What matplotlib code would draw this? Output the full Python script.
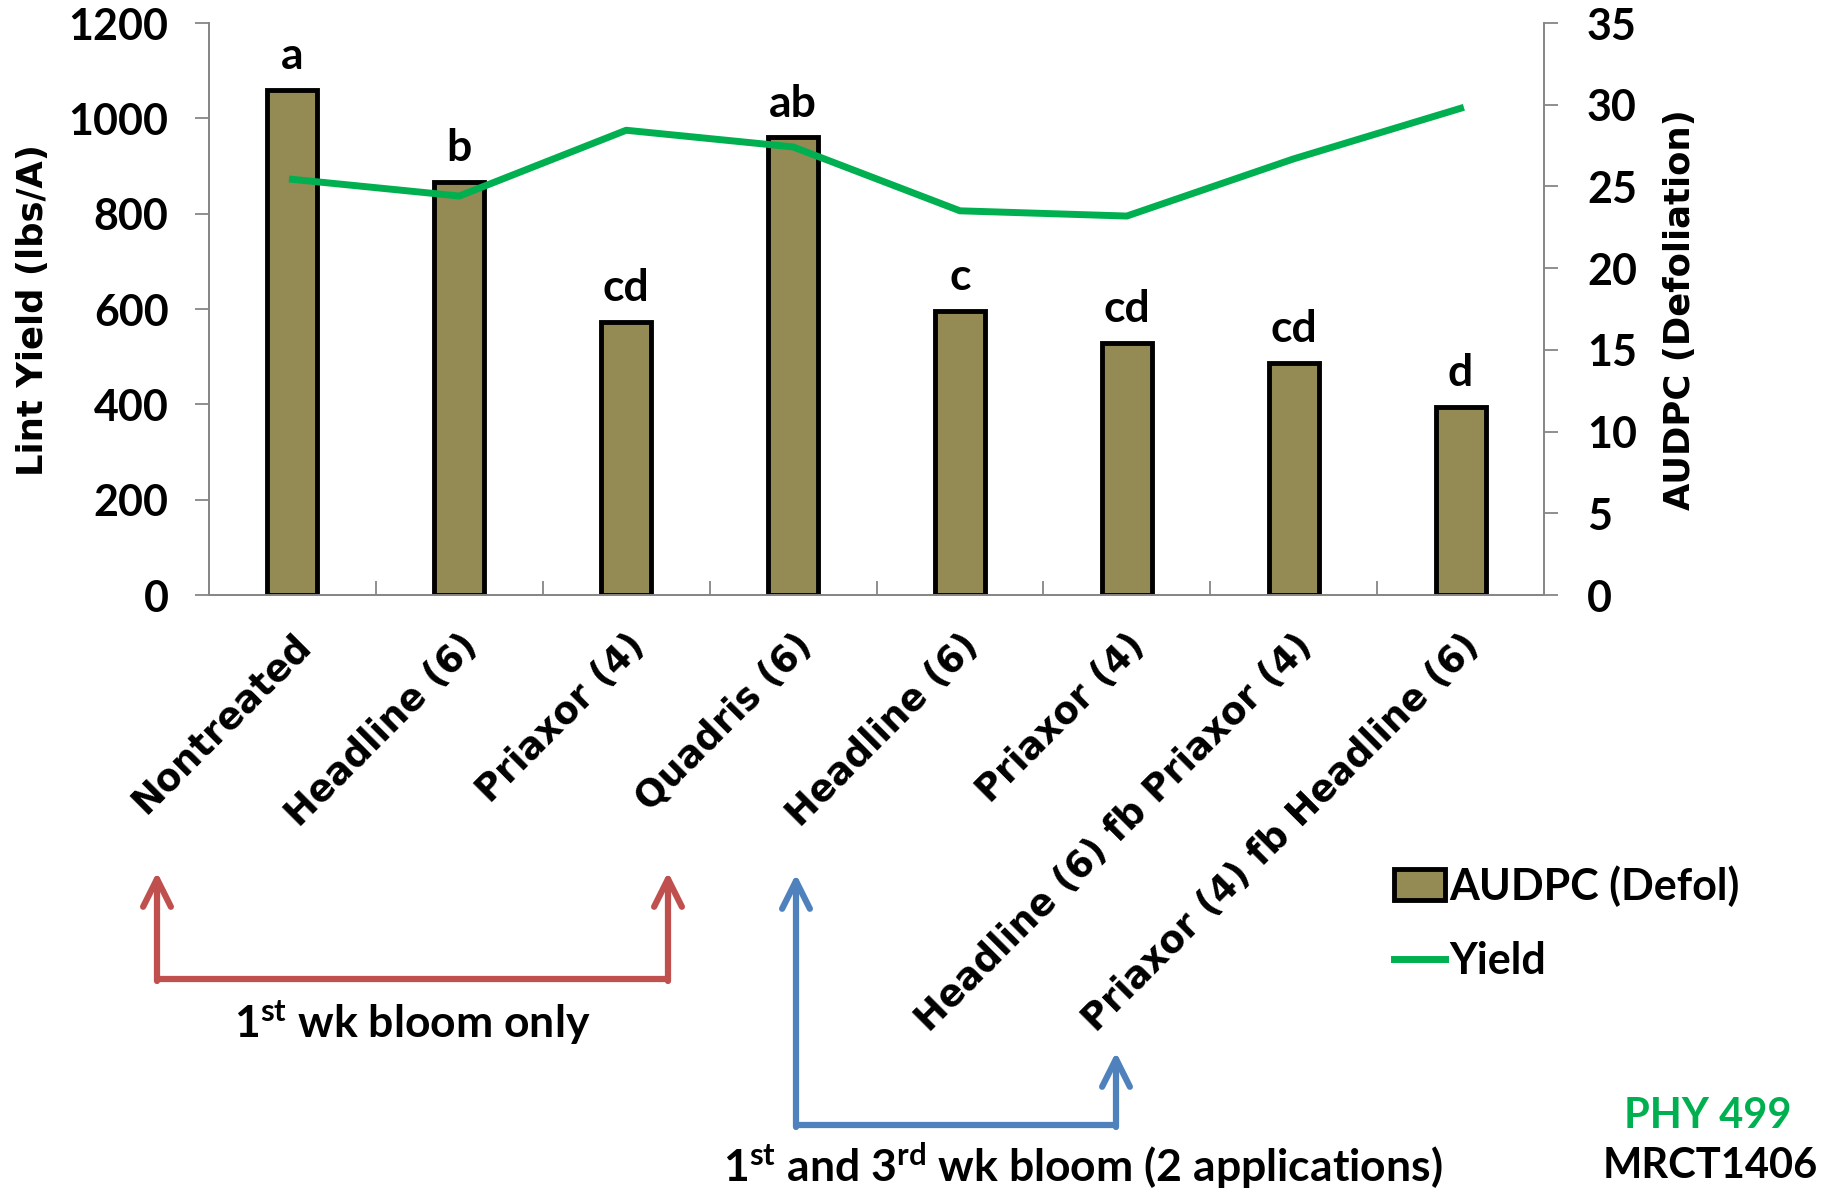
import matplotlib
matplotlib.use('Agg')
import matplotlib.pyplot as plt
from matplotlib.lines import Line2D
from matplotlib.patches import FancyArrowPatch

categories = ['Nontreated', 'Headline (6)', 'Priaxor (4)', 'Quadris (6)', 'Headline (6)',
              'Priaxor (4)', 'Headline (6) fb Priaxor (4)', 'Priaxor (4) fb Headline (6)']
audpc = [30.9, 25.3, 16.7, 28.0, 17.4, 15.4, 14.2, 11.5]
letters = ['a', 'b', 'cd', 'ab', 'c', 'cd', 'cd', 'd']
yield_lbs = [872, 837, 975, 940, 806, 795, 915, 1021]

W, H = 1823, 1190
num_font = ['Lato', 'Liberation Sans', 'DejaVu Sans']
lab_font = ['DejaVu Sans']
plt.rcParams['mathtext.fontset'] = 'custom'
plt.rcParams['mathtext.rm'] = 'Lato:bold'
plt.rcParams['mathtext.bf'] = 'Lato:bold'

def fx(x):
    return x / W

def fy(y):
    return 1 - y / H

fig = plt.figure(figsize=(W / 100, H / 100), dpi=100)
ax = fig.add_axes([fx(209), fy(595), (1544 - 209) / W, (595 - 23) / H])
ax2 = ax.twinx()

x = list(range(len(categories)))
ax2.bar(x, audpc, width=0.3, color='#948A54', edgecolor='black', linewidth=3.5, label='AUDPC (Defol)')
for i, (v, t) in enumerate(zip(audpc, letters)):
    ax2.annotate(t, (i, v), xytext=(0, 15), textcoords='offset points', ha='center', va='baseline',
                 fontsize=32, fontweight='bold', family=num_font)

ax.plot(x, yield_lbs, color='#00B050', linewidth=5, label='Yield')
ax.set_zorder(ax2.get_zorder() + 1)
ax.patch.set_visible(False)

ax.set_xlim(-0.5, 7.5)
ax.set_ylim(0, 1200)
ax2.set_ylim(0, 35)
ax.set_yticks(range(0, 1201, 200))
ax2.set_yticks(range(0, 36, 5))

for a in (ax, ax2):
    a.spines['top'].set_visible(False)
    for s in ('left', 'right', 'bottom'):
        a.spines[s].set_color('#868686')
        a.spines[s].set_linewidth(1.3)
    for lab in a.get_yticklabels():
        lab.set_family(num_font)
        lab.set_fontweight('bold')
        lab.set_fontsize(31)
ax.tick_params(axis='y', length=10, width=1.3, color='#868686', pad=19)
ax2.tick_params(axis='y', length=10, width=1.3, color='#868686', pad=21)

ax.set_xticks(x)
ax.set_xticklabels(categories, rotation=45, ha='right', rotation_mode='anchor',
                   fontsize=26.5, fontweight='bold', family=lab_font)
ax.tick_params(axis='x', length=0, pad=23)
ax.set_xticks([i + 0.5 for i in x[:-1]], minor=True)
ax.tick_params(axis='x', which='minor', direction='in', length=10, width=1.3, color='#868686')

fig.text(fx(33), fy(310), 'Lint Yield (lbs/A)', rotation=90, ha='center', va='center',
         fontsize=25.5, fontweight='bold', family=lab_font)
fig.text(fx(1680), fy(310), 'AUDPC (Defoliation)', rotation=90, ha='center', va='center',
         fontsize=25.5, fontweight='bold', family=lab_font)

# legend
h1, l1 = ax2.get_legend_handles_labels()
h2, l2 = ax.get_legend_handles_labels()
fig.legend(h1 + h2, l1 + l2, loc='center left', bbox_to_anchor=(fx(1355), fy(923)),
           frameon=False, prop={'family': num_font, 'weight': 'bold', 'size': 31},
           handlelength=1.2, handleheight=0.75, handletextpad=0.1, labelspacing=0.8)

# bracket arrows
def bracket(x1, x2, y_tip1, y_tip2, y_base, color):
    fig.add_artist(Line2D([fx(x1), fx(x2)], [fy(y_base), fy(y_base)], color=color, lw=4.5,
                          transform=fig.transFigure, solid_capstyle='butt'))
    for xx, yt in ((x1, y_tip1), (x2, y_tip2)):
        fig.add_artist(FancyArrowPatch((fx(xx), fy(y_base + 2)), (fx(xx), fy(yt)),
                                       transform=fig.transFigure, arrowstyle='->,head_length=2.0,head_width=1.0',
                                       mutation_scale=10, color=color, lw=4.5, shrinkA=0, shrinkB=0))

bracket(157, 668, 872, 872, 979, '#C0504D')
bracket(796, 1116, 874, 1052, 1125, '#4F81BD')

fig.text(fx(412), fy(1023), r'1$^{\mathrm{st}}$ wk bloom only', ha='center', va='center',
         fontsize=32, fontweight='bold', family=num_font)
fig.text(fx(1083), fy(1166), r'1$^{\mathrm{st}}$ and 3$^{\mathrm{rd}}$ wk bloom (2 applications)',
         ha='center', va='center', fontsize=32, fontweight='bold', family=num_font)
fig.text(fx(1708), fy(1116), 'PHY 499', ha='center', va='center', color='#00B050',
         fontsize=30, fontweight='bold', family=num_font)
fig.text(fx(1710), fy(1166), 'MRCT1406', ha='center', va='center',
         fontsize=30, fontweight='bold', family=num_font)

fig.savefig('out.png', dpi=100)
